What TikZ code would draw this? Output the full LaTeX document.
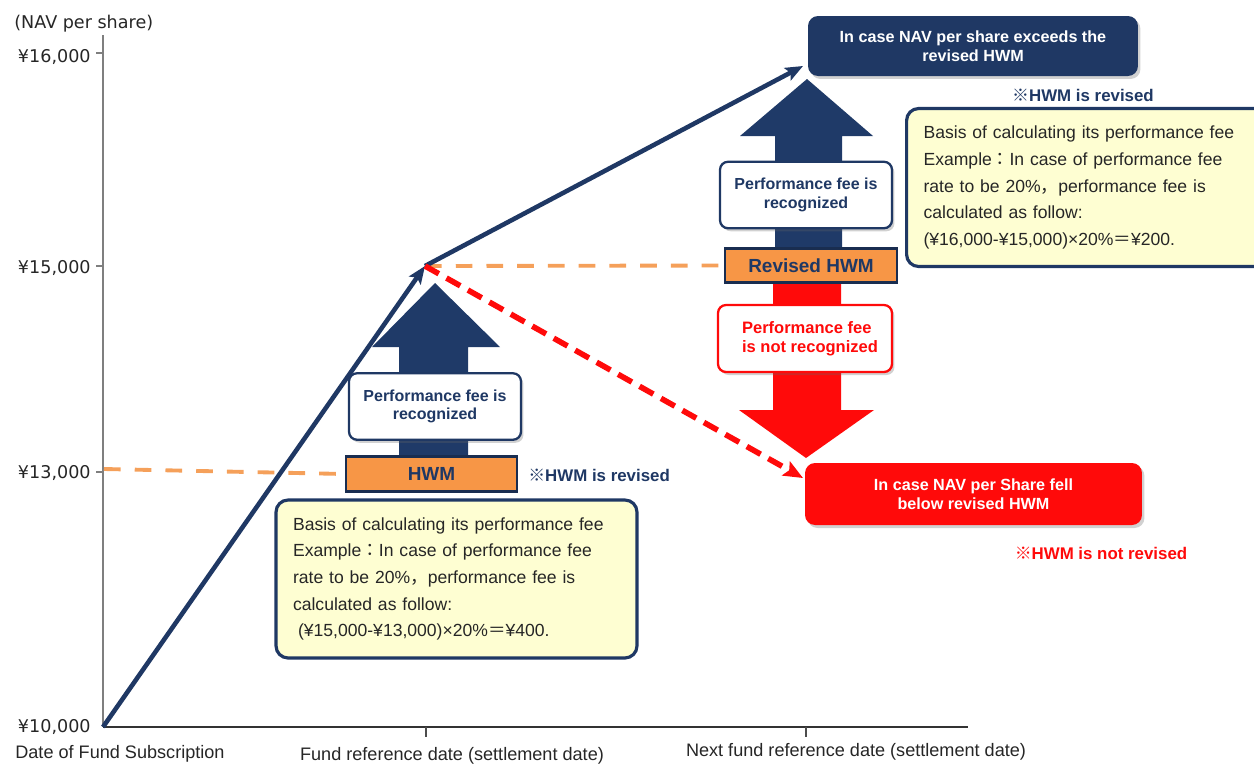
\documentclass[tikz,border=0pt]{standalone}
\usepackage{fontspec}
\setmainfont{Liberation Sans}
\newfontfamily\dejavu{DejaVu Sans}
\newfontfamily\cjk{Noto Sans CJK JP}
\usetikzlibrary{arrows.meta,shadows}

\definecolor{navy}{HTML}{1F3864}
\definecolor{arrownavy}{HTML}{1F3A68}
\definecolor{hwmorange}{HTML}{F79646}
\definecolor{dashorange}{HTML}{F5A05A}
\definecolor{noteyellow}{HTML}{FEFED2}
\definecolor{brightred}{HTML}{FF0A0A}
\definecolor{axisgray}{HTML}{7F7F7F}
\definecolor{notetext}{HTML}{262626}

\tikzset{
  shad/.style={drop shadow={shadow xshift=0.05cm,shadow yshift=-0.06cm,opacity=0.3,fill=black!60}},
  perfbox/.style={draw=navy,line width=1.3pt,fill=white,rounded corners=0.16cm,shad,
    text=navy,font=\fontsize{9.1}{10.6}\selectfont\bfseries,align=center,
    minimum width=3.44cm,minimum height=1.33cm,inner sep=0pt},
  notperfbox/.style={draw=brightred,line width=1.3pt,fill=white,rounded corners=0.16cm,shad,
    text=brightred,font=\fontsize{9.4}{11}\selectfont\bfseries,align=left,
    minimum width=3.48cm,minimum height=1.34cm,inner sep=0pt},
  hwmbox/.style={draw=navy!80!black,line width=1.5pt,fill=hwmorange,text=navy,
    font=\fontsize{10.8}{12}\selectfont\bfseries,minimum height=0.69cm,inner sep=0pt},
  notebox/.style={draw=navy,line width=1.8pt,fill=noteyellow,rounded corners=0.24cm,
    text=notetext,font=\fontsize{10}{15.2}\selectfont,align=left,
    text width=6.54cm,inner xsep=0.34cm,minimum height=3.16cm},
  bignavy/.style={fill=navy,rounded corners=0.2cm,shad,text=white,
    font=\fontsize{9.2}{10.6}\selectfont\bfseries,align=center,inner sep=0pt},
  bigred/.style={fill=brightred,rounded corners=0.2cm,shad,text=white,
    font=\fontsize{9.2}{10.6}\selectfont\bfseries,align=center,inner sep=0pt},
  remark/.style={font=\fontsize{9.6}{11}\selectfont\bfseries,inner sep=0pt},
  ylab/.style={font=\dejavu\fontsize{10}{12}\selectfont,anchor=east,inner sep=0pt,text=black!85},
  xlab/.style={font=\fontsize{10.3}{12}\selectfont,inner sep=0pt,text=black!85},
  navyline/.style={draw=navy,line width=2.6pt,-{Stealth[length=10pt,width=8pt,inset=2pt]}},
  reddash/.style={draw=brightred,line width=3.2pt,dash pattern=on 9pt off 5pt,
    -{Stealth[length=11pt,width=9pt,inset=2pt]}},
  orangedash/.style={draw=dashorange,line width=2.2pt,dash pattern=on 9.5pt off 8pt},
  uparrow/.style={fill=arrownavy},
  downarrow/.style={fill=brightred}
}

\begin{document}
\begin{tikzpicture}[x=0.02cm,y=-0.02cm]
\useasboundingbox (0,0) rectangle (1254,765);

% axes
\coordinate (O) at (103,727);
\coordinate (Ytop) at (103,35);
\coordinate (Xend) at (968,727);
\draw[axisgray,line width=0.9pt] (Ytop) -- (O);
\draw[black!80,line width=1.2pt] (O) -- (Xend);
\foreach \yy in {53,266,472}{\draw[axisgray,line width=0.6pt] (96,\yy) -- (103,\yy);}
\draw[black!70,line width=0.7pt] (426,727) -- (426,737);
\draw[black!70,line width=0.7pt] (806,727) -- (806,737);

\node[ylab,anchor=west] (navlab) at (14,24) {(NAV per share)};
\node[ylab] (y16) at (91,57) {¥16,000};
\node[ylab] (y15) at (91,268) {¥15,000};
\node[ylab] (y13) at (91,473) {¥13,000};
\node[ylab] (y10) at (91,727) {¥10,000};

\node[xlab,anchor=west] (d0) at (15,754) {Date of Fund Subscription};
\node[xlab] (d1) at (452,756) {Fund reference date (settlement date)};
\node[xlab] (d2) at (856,752) {Next fund reference date (settlement date)};

% key points
\coordinate (P1) at (425,266);
\coordinate (P2) at (803,66);
\coordinate (P3) at (803,478);

% boxes (positions)
\node[hwmbox,minimum width=3.42cm] (hwm) at (431.5,474) {HWM};
\node[hwmbox,minimum width=3.44cm] (rhwm) at (811,265.5) {Revised HWM};

% orange dashed levels
\coordinate (L13) at (104,469);
\draw[orangedash] (L13) -- (hwm.west);
\draw[orangedash] (P1) -- (rhwm.west);

% big block arrows
\path[uparrow] (399,457) -- (399,347) -- (372,347) -- (435,283) -- (500,347) -- (468,347) -- (468,457) -- cycle;
\path[uparrow] (775,248) -- (775,136) -- (740,136) -- (807,79) -- (873,136) -- (842,136) -- (842,248) -- cycle;
\path[downarrow] (773,283) -- (773,410) -- (739,410) -- (806,458) -- (874,410) -- (841,410) -- (841,283) -- cycle;

% redraw HWM boxes on top of arrows
\node[hwmbox,minimum width=3.42cm] at (hwm.center) {HWM};
\node[hwmbox,minimum width=3.44cm] at (rhwm.center) {Revised HWM};

% label boxes
\node[perfbox] (perf1) at (435,406.5) {Performance fee is\\recognized};
\node[perfbox] (perf2) at (806,195) {Performance fee is\\recognized};
\node[notperfbox] (noperf) at (805,338.5) {\hspace*{0.2cm}Performance fee\\\hspace*{0.2cm}is not recognized};

\node[bignavy,minimum width=6.6cm,minimum height=1.2cm] (top) at (973,46)
  {In case NAV per share exceeds the\\revised HWM};
\node[bigred,minimum width=6.74cm,minimum height=1.24cm] (low) at (973.5,494)
  {In case NAV per Share fell\\below revised HWM};

\node[remark,text=navy,anchor=west] (rem1) at (528,475) {{\cjk\bfseries ※}HWM is revised};
\node[remark,text=navy] (rem2) at (1083,95) {{\cjk\bfseries ※}HWM is revised};
\node[remark,text=brightred] (rem3) at (1101,553) {{\cjk\bfseries ※}HWM is not revised};

% NAV path
\draw[navyline] (O) -- (P1);
\draw[navyline] (P1) -- (P2);
\draw[reddash] (P1) -- (P3);

% note boxes
\node[notebox] (note1) at (456.5,579) {Basis of calculating its performance fee\\
Example{\cjk ：}In case of performance fee\\
rate to be 20\%{\cjk ，}performance fee is\\
calculated as follow:\\
\hspace*{0.1cm}(¥15,000-¥13,000)×20\%{\cjk ＝}¥400.};
\node[notebox,anchor=west,text width=6.62cm] (note2) at (905,187.5) {Basis of calculating its performance fee\\
Example{\cjk ：}In case of performance fee\\
rate to be 20\%{\cjk ，}performance fee is\\
calculated as follow:\\
(¥16,000-¥15,000)×20\%{\cjk ＝}¥200.};
\end{tikzpicture}
\end{document}
